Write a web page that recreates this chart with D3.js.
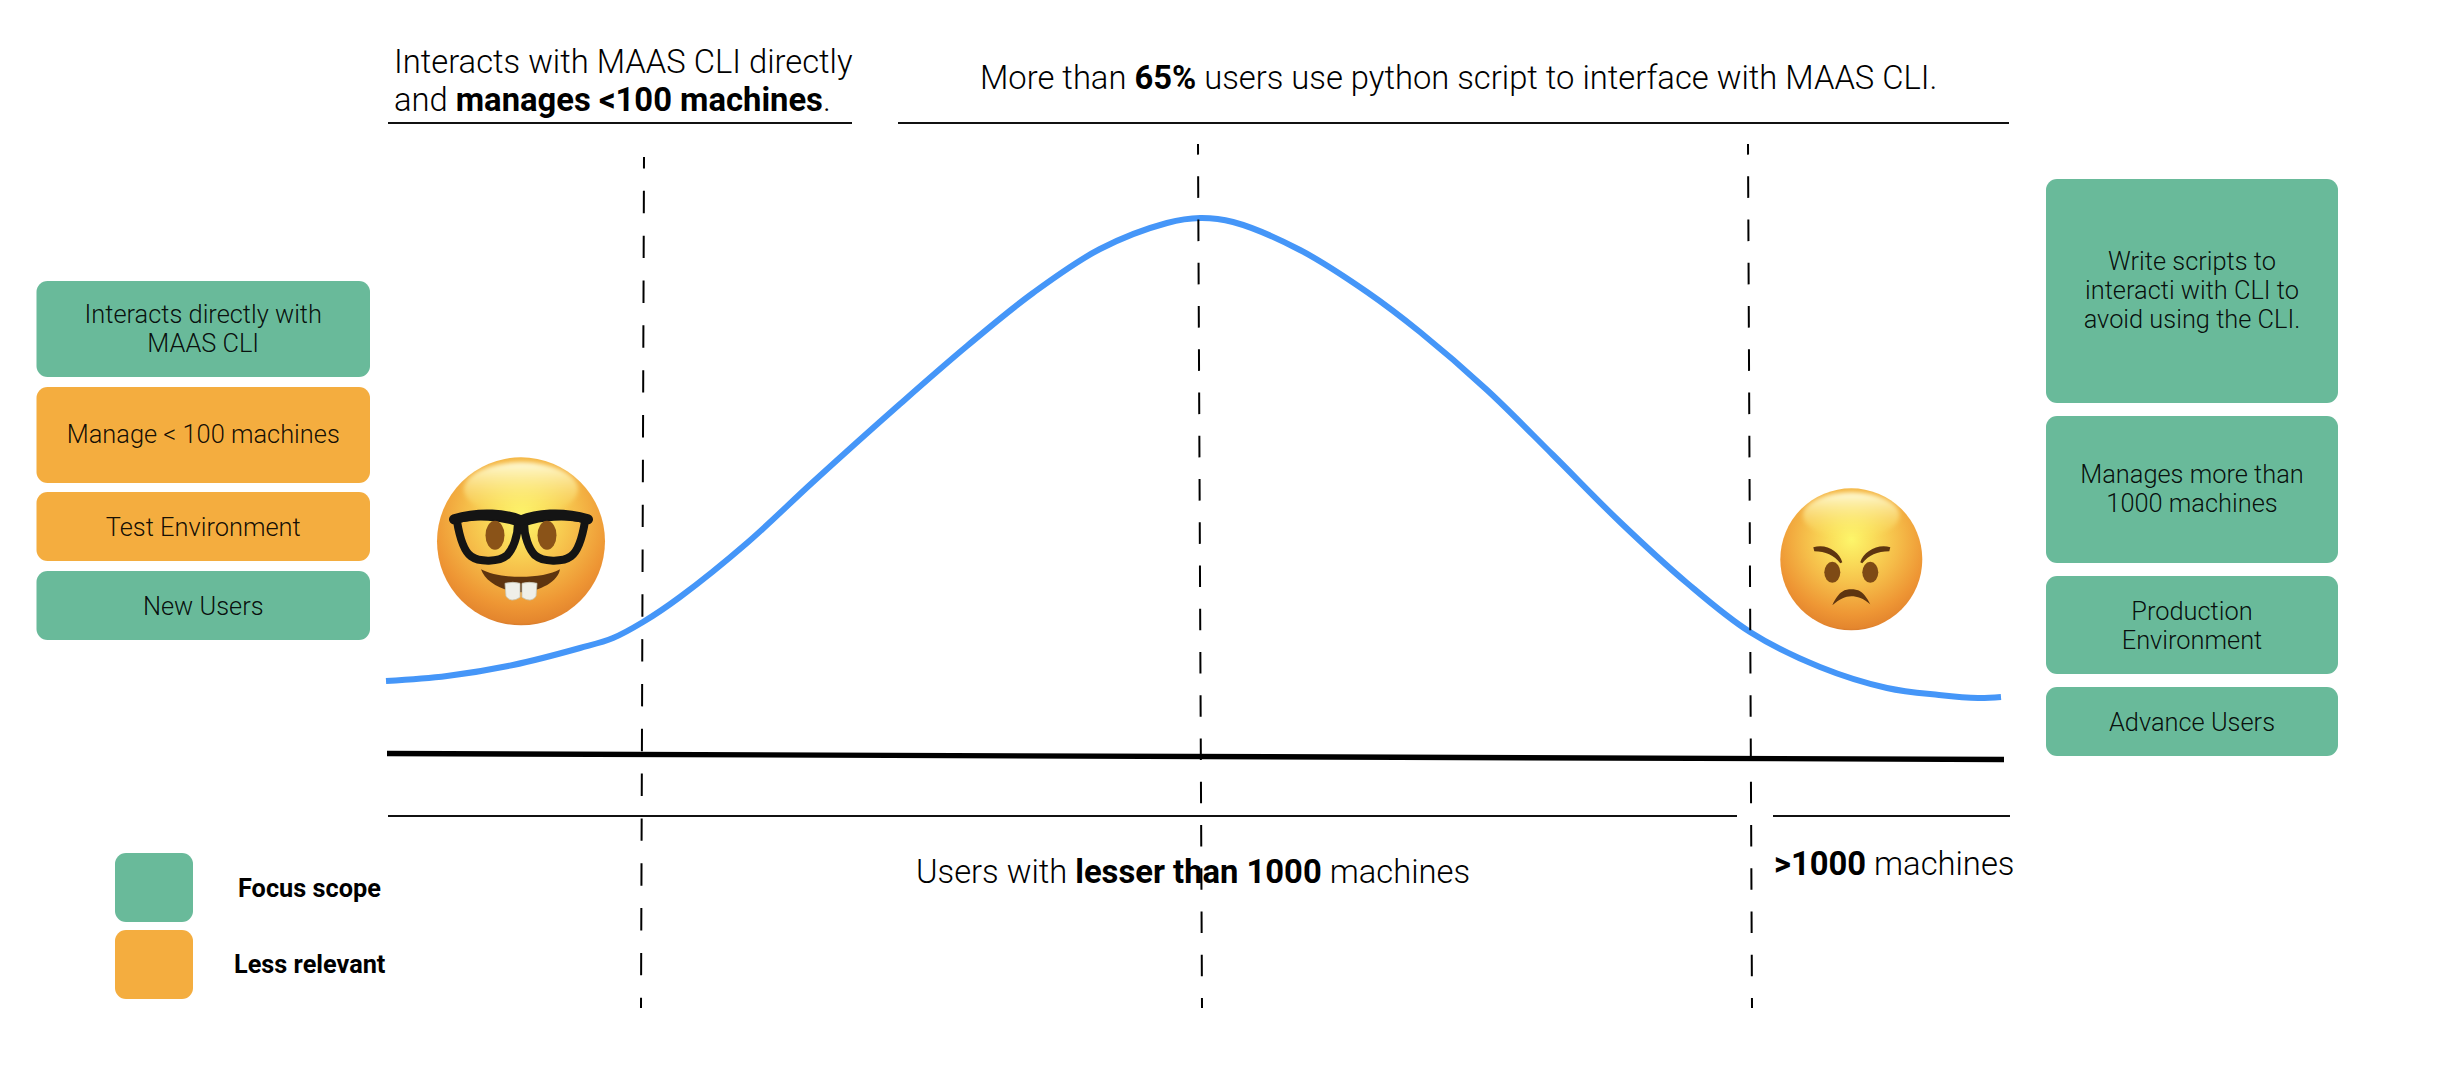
<!DOCTYPE html>
<html><head><meta charset="utf-8">
<style>
html,body{margin:0;padding:0;background:#fff;overflow:hidden}
text{font-family:Roboto,sans-serif;font-weight:300;fill:#000}
.b{font-weight:700}
</style>
<script src="https://cdnjs.cloudflare.com/ajax/libs/d3/7.8.5/d3.min.js"></script>
</head><body><svg id="c" width="2438" height="1076"></svg>
<script>
// Curve: position along the axis / height above the axis
const curveX=[-2,59,125,192,225,255,292,359,425,512,579,645,712,779,812,845,912,979,1032,1099,1165,1232,1299,1362,1432,1499,1551,1590,1613];
const curveY=[74,79,90,107,117,133,158,212,273,351,409,462,506,532,537,533,505,463,423,365,300,233,172,123,88,67,60,57,58];
const baselineX=[-1,1616];
const baselineY=[1.5,-4.5];
// Vertical segment markers: x at top and bottom end
const markerTopX=[256,810,1360];
const markerBottomX=[253,814,1364];
const markerTopY=[598,611,611];
const markerBottomY=[-253,-253,-253];
const markerPeriod=[44.83,43.25,43.25];
const markerPhase=[11,11,11];

const leftLabels=[["Interacts directly with","MAAS CLI"],["Manage < 100 machines"],["Test Environment"],["New Users"]];
const leftKinds=["focus","less","less","focus"];
const rightLabels=[["Write scripts to","interacti with CLI to","avoid using the CLI."],["Manages more than","1000 machines"],["Production","Environment"],["Advance Users"]];
const rightKinds=["focus","focus","focus","focus"];
const legendKinds=["focus","less"];
const legendLabels=["Focus scope","Less relevant"];
const header1=[["Interacts with MAAS CLI directly",0]];
const header1b=[["and ",0],["manages <100 machines",1],[".",0]];
const header2=[["More than ",0],["65%",1],[" users use python script to interface with MAAS CLI.",0]];
const footer1=[["Users with ",0],["lesser than 1000",1],[" machines",0]];
const footer2=[[">1000",1],[" machines",0]];

// Layout
const leftBoxes=[[281,377,323,352],[387,483,443],[492,561,536],[571,640,614.5]];
const rightBoxes=[[179,403,270,299,328],[416,563,483,512],[576,674,620,649],[687,756,731]];
const fillColor=d3.scaleOrdinal(["focus","less"],["#69ba9a","#f4ad3f"]);
const x=d3.scaleLinear([0,1616],[388,2004]);
const y=d3.scaleLinear([0,537],[755,218]);

const svg=d3.select("#c");
const defs=svg.append("defs");
const grad=defs.append("radialGradient").attr("id","face").attr("cx","50%").attr("cy","36%").attr("r","68%");
[[0,"#fdf66b"],[.22,"#fade5a"],[.5,"#f5bb48"],[.78,"#ee9634"],[.92,"#e4862e"],[1,"#b86024"]].forEach(s=>grad.append("stop").attr("offset",s[0]).attr("stop-color",s[1]));
const hl=defs.append("linearGradient").attr("id","shine").attr("x1",0).attr("y1",0).attr("x2",0).attr("y2",1);
hl.append("stop").attr("offset",0).attr("stop-color","#fffde0").attr("stop-opacity",.95);
hl.append("stop").attr("offset",1).attr("stop-color","#fdf66b").attr("stop-opacity",0);
defs.append("filter").attr("id","soft").append("feGaussianBlur").attr("stdDeviation",2);

function rich(sel,parts){parts.forEach(p=>sel.append("tspan").attr("class",p[1]?"b":null).text(p[0]));return sel;}

function boxes(data,labels,kinds,x0,x1){
  data.forEach((b,i)=>{
    svg.append("rect").attr("x",x0).attr("y",b[0]).attr("width",x1-x0).attr("height",b[1]-b[0]).attr("rx",11)
      .attr("fill",fillColor(kinds[i]));
    labels[i].forEach((t,j)=>svg.append("text").attr("x",(x0+x1)/2).attr("y",b[2+j]).attr("text-anchor","middle")
      .attr("font-size",25.4).attr("fill-opacity",.93).text(t));
  });
}
boxes(leftBoxes,leftLabels,leftKinds,36.5,370);
boxes(rightBoxes,rightLabels,rightKinds,2046,2338);

// legend
[[853,922,238,897],[930,999,234,973]].forEach((r,i)=>{
  svg.append("rect").attr("x",115).attr("y",r[0]).attr("width",78).attr("height",r[1]-r[0]).attr("rx",11).attr("fill",fillColor(legendKinds[i]));
  svg.append("text").attr("x",r[2]).attr("y",r[3]).attr("class","b").attr("font-size",25.3).text(legendLabels[i]);
});

// rules
[[388,852,123],[898,2009,123],[388,1737,816],[1773,2010,816]].forEach(l=>
  svg.append("line").attr("x1",l[0]).attr("x2",l[1]).attr("y1",l[2]).attr("y2",l[2]).attr("stroke","#111").attr("stroke-width",2));

// header / footer text
rich(svg.append("text").attr("x",394).attr("y",73).attr("font-size",32.75),header1);
rich(svg.append("text").attr("x",394).attr("y",111).attr("font-size",32.75),header1b);
rich(svg.append("text").attr("x",980).attr("y",89).attr("font-size",32.75),header2);
rich(svg.append("text").attr("x",916).attr("y",883).attr("font-size",32.75),footer1);
rich(svg.append("text").attr("x",1774).attr("y",875).attr("font-size",32.75),footer2);

// baseline
svg.append("line").attr("x1",x(baselineX[0])).attr("x2",x(baselineX[1])).attr("y1",y(baselineY[0])).attr("y2",y(baselineY[1]))
  .attr("stroke","#000").attr("stroke-width",5.4);

// curve
svg.append("path").datum(curveX.map((v,i)=>[v,curveY[i]]))
  .attr("d",d3.line().x(d=>x(d[0])).y(d=>y(d[1])).curve(d3.curveCatmullRom.alpha(0.5)))
  .attr("fill","none").attr("stroke","#4596f8").attr("stroke-width",6);

// markers
markerTopX.forEach((v,i)=>{
  const p=markerPeriod[i];
  svg.append("line").attr("x1",x(v)).attr("x2",x(markerBottomX[i])).attr("y1",y(markerTopY[i])).attr("y2",y(markerBottomY[i]))
    .attr("stroke","#000").attr("stroke-width",2)
    .attr("stroke-dasharray",[p/2,p/2].join(" ")).attr("stroke-dashoffset",markerPhase[i]);
});

// emoji drawn as shapes
function face(cx,cy,r){
  const g=svg.append("g").attr("transform",`translate(${cx},${cy})`);
  g.append("circle").attr("r",r).attr("fill","url(#face)");
  g.append("ellipse").attr("cy",-r*.62).attr("rx",r*.68).attr("ry",r*.32).attr("fill","url(#shine)").attr("filter","url(#soft)");
  return g;
}
// nerd: coordinates in px relative to face centre
const n=face(521,541.3,84);
const ng=n.append("g").attr("fill","none").attr("stroke","#141414").attr("stroke-linejoin","round");
n.append("ellipse").attr("cx",-26).attr("cy",-6).attr("rx",9.5).attr("ry",14.5).attr("fill","#8a5318");
n.append("ellipse").attr("cx",26).attr("cy",-6).attr("rx",9.5).attr("ry",14.5).attr("fill","#8a5318");
ng.append("path").attr("stroke-width",8).attr("d","M-64,-22 C-45,-27 -20,-25 -3,-19 C-3,-5 -8,8 -14,14 C-22,21 -42,21 -50,15 C-58,9 -62,-8 -64,-20 Z");
ng.append("path").attr("stroke-width",8).attr("d","M64,-22 C45,-27 20,-25 3,-19 C3,-5 8,8 14,14 C22,21 42,21 50,15 C58,9 62,-8 64,-20 Z");
ng.append("path").attr("stroke-width",10).attr("stroke-linecap","round").attr("d","M-67,-22 C-40,-30 -15,-27 0,-21 C15,-27 40,-30 67,-22");
n.append("path").attr("d","M-40,28 C-22,38 22,38 39,28 C37,40 20,50 0,51 C-20,50 -36,40 -40,28 Z").attr("fill","#5e340f");
n.append("path").attr("d","M-16,42 Q-8,40 -1,42 L-1,56 Q-10,62 -15,55 Z M1,42 Q8,40 16,42 L15,55 Q10,62 1,56 Z").attr("fill","#efefe8").attr("stroke","#c8c8b8").attr("stroke-width",.8);

// angry
const a=face(1851.3,559.3,71);
a.append("ellipse").attr("cx",-19).attr("cy",13).attr("rx",8).attr("ry",10.5).attr("fill","#7e4a15");
a.append("ellipse").attr("cx",19).attr("cy",13).attr("rx",8).attr("ry",10.5).attr("fill","#7e4a15");
a.append("path").attr("d","M-38,-12 C-25,-16 -12,-8 -9,3 L-11,4 C-17,-4 -26,-8 -37,-8 Z").attr("fill","#5e3510");
a.append("path").attr("d","M39,-12 C27,-16 12,-8 9,3 L11,4 C17,-4 26,-8 38,-8 Z").attr("fill","#5e3510");
a.append("path").attr("d","M-19,46 C-12,31 -6,30 0,30 C6,30 12,31 19,45 C12,39 6,37 0,37 C-6,37 -12,40 -19,46 Z").attr("fill","#5e3510");
</script></body></html>
